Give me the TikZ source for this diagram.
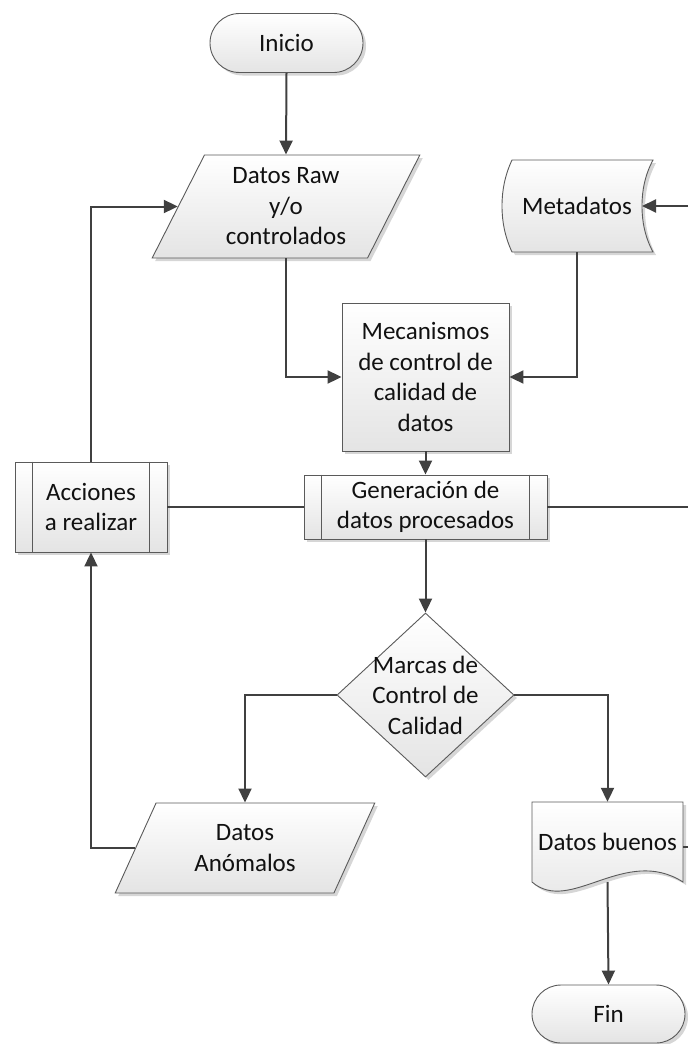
\documentclass[tikz,border=0pt]{standalone}
\usepackage{fontspec}
\setmainfont{Carlito}
\usetikzlibrary{shapes.geometric,shapes.misc,arrows.meta,shadows,calc}

\definecolor{linegray}{HTML}{404040}
\definecolor{edgegray}{HTML}{5A5A5A}
\definecolor{fillgray}{HTML}{E4E4E4}
\definecolor{shadowgray}{HTML}{D6D6D6}
\definecolor{textblack}{HTML}{111111}

\tikzset{
  boxbase/.style={draw=edgegray, line width=0.9pt, top color=white, bottom color=fillgray,
    drop shadow={shadow xshift=3pt, shadow yshift=-3pt, fill=shadowgray, opacity=1},
    inner sep=0pt, align=center, text=textblack,
    font=\fontsize{25}{30.5}\selectfont},
  termbox/.style={boxbase, rounded rectangle, minimum width=153pt, minimum height=59pt},
  iobox/.style={boxbase, trapezium, trapezium left angle=63.5, trapezium right angle=116.5,
    trapezium stretches=true},
  procbox/.style={boxbase, rectangle},
  decbox/.style={boxbase, diamond, minimum width=177pt, minimum height=164pt},
  shapeline/.style={draw=edgegray, line width=0.9pt, top color=white, bottom color=fillgray,
    drop shadow={shadow xshift=3pt, shadow yshift=-3pt, fill=shadowgray, opacity=1}},
  labeltext/.style={inner sep=0pt, align=center, text=textblack,
    font=\fontsize{25}{30.5}\selectfont},
  arr/.style={draw=linegray, line width=2pt, -{Triangle[length=14pt, width=13pt]}},
  link/.style={draw=linegray, line width=2pt},
  sideline/.style={draw=edgegray, line width=0.9pt}
}

\begin{document}
\begin{tikzpicture}[x=1pt, y=-1pt]
  \useasboundingbox (0,0) rectangle (688,1044);

  % start / end terminators
  \node[termbox] (inicio) at (286.5,43) {Inicio};
  \node[termbox, minimum height=58pt] (fin) at (608.5,1014) {Fin};

  % input data
  \node[iobox, minimum width=268pt, minimum height=103pt] (raw) at (286,206.5)
    {Datos Raw\\y/o\\controlados};

  % stored metadata (curved sides)
  \path[shapeline] (512,160) -- (653,160)
    .. controls (645,175) and (642,190) .. (642,206)
    .. controls (642,222) and (645,237) .. (653,252)
    -- (512,252)
    .. controls (505,237) and (502,222) .. (502,206)
    .. controls (502,190) and (505,175) .. (512,160) -- cycle;
  \node[labeltext, minimum width=151pt, minimum height=92pt] (meta) at (577,206) {Metadatos};
  \coordinate (metain) at (642,206);
  \coordinate (rightA) at (688,206);

  % quality control mechanisms
  \node[procbox, minimum width=167pt, minimum height=148pt] (mec) at (425.5,377)
    {Mecanismos\\de control de\\calidad de\\datos};

  % predefined processes
  \node[procbox, minimum width=243pt, minimum height=64pt] (gen) at (425.5,507)
    {Generación de\\datos procesados};
  \draw[sideline] ([xshift=18pt]gen.north west) -- ([xshift=18pt]gen.south west);
  \draw[sideline] ([xshift=-18pt]gen.north east) -- ([xshift=-18pt]gen.south east);
  \coordinate (rightB) at (688,507);

  \node[procbox, minimum width=152pt, minimum height=90pt] (acc) at (91,507)
    {Acciones\\a realizar};
  \draw[sideline] ([xshift=18pt]acc.north west) -- ([xshift=18pt]acc.south west);
  \draw[sideline] ([xshift=-18pt]acc.north east) -- ([xshift=-18pt]acc.south east);

  % decision
  \node[decbox] (dec) at (425.5,695) {};
  \node[labeltext] (dectext) at (dec.center) {Marcas de\\Control de\\Calidad};

  % anomalous data
  \node[iobox, minimum width=260pt, minimum height=90pt] (anom) at (245,848)
    {Datos\\Anómalos};

  % good data document (wavy bottom)
  \path[shapeline] (532,802) -- (683,802) -- (683,882)
    .. controls (625,845) and (570,915) .. (532,882) -- cycle;
  \node[labeltext, minimum width=151pt, minimum height=80pt] (good) at (607.5,842)
    {Datos buenos};
  \coordinate (goodout) at (683,847);
  \coordinate (rightC) at (688,847);

  % connectors
  \draw[arr] (inicio.south) -- (raw.north);
  \draw[arr] (raw.south) |- (mec.west);
  \draw[arr] (meta.south) |- (mec.east);
  \draw[arr] (rightA) -- (metain);
  \draw[arr] (mec.south) -- (gen.north);
  \draw[link] (gen.east) -- (rightB);
  \draw[link] (gen.west) -- (acc.east);
  \draw[arr] (acc.north) |- (raw.west);
  \draw[arr] (gen.south) -- (dec.north);
  \draw[arr] (dec.west) -| (anom.north);
  \draw[arr] (dec.east) -| (good.north);
  \draw[arr] (anom.west) -| (acc.south);
  \draw[arr] (good.south) -- (fin.north);
  \draw[link] (goodout) -- (rightC);
\end{tikzpicture}
\end{document}
